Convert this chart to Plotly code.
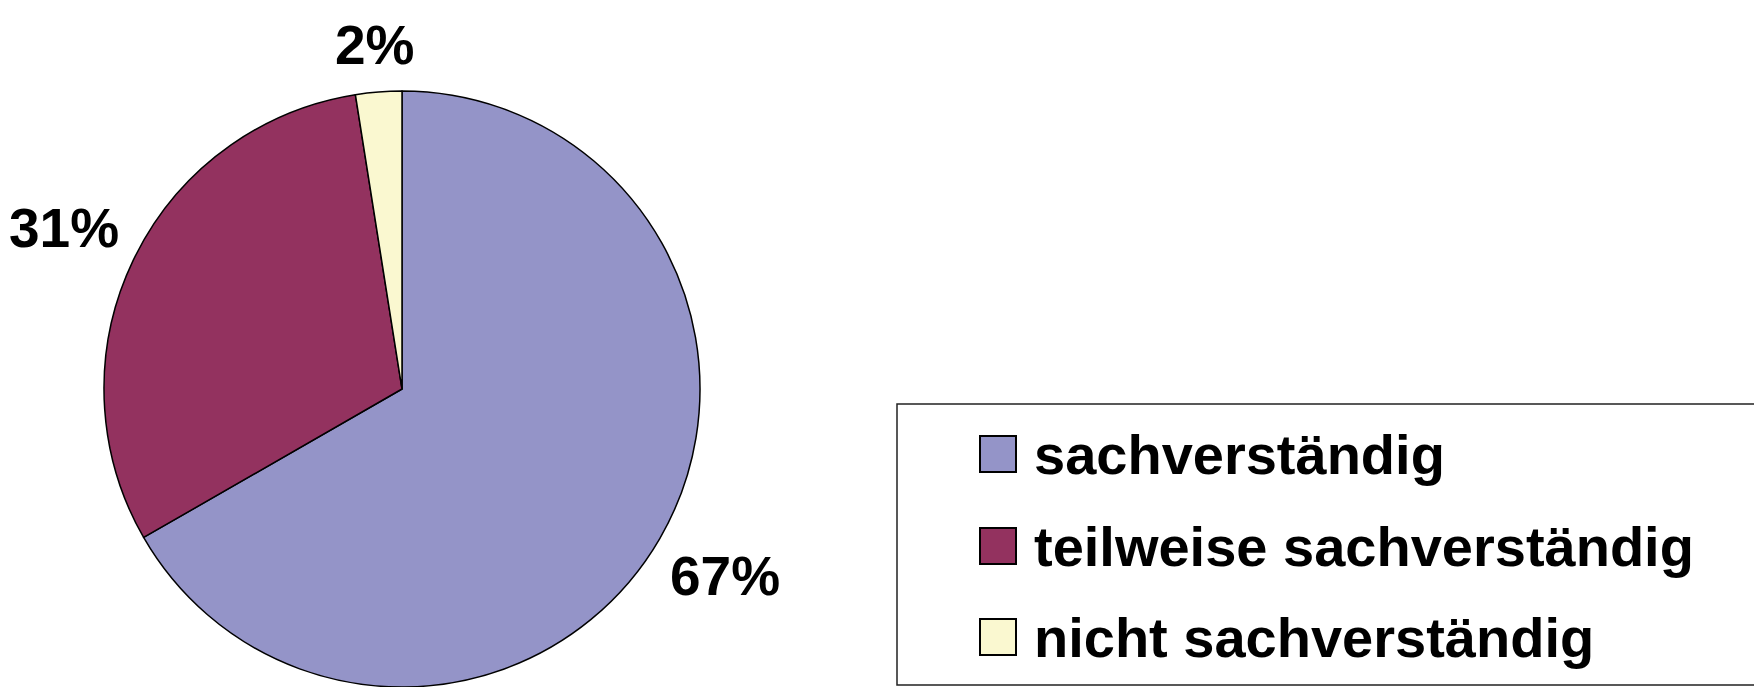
import math
import plotly.graph_objects as go

# ---------------------------------------------------------------------
# Data
# ---------------------------------------------------------------------
labels = ["sachverständig", "teilweise sachverständig", "nicht sachverständig"]
shares = [66.7, 30.8, 2.5]
share_text = ["67%", "31%", "2%"]
colors = ["#9494C8", "#93325F", "#FAF8D0"]

# the page body has an 8px margin, so keep the figure inside the window
W, H = 1754, 679
FONT = "Arial, Liberation Sans, sans-serif"

CX, CY, R = 394, 381, 298   # pie centre / radius in figure pixels


def px_x(x):
    return x / W


def px_y(y):
    return 1 - y / H


fig = go.Figure(go.Pie(
    labels=labels,
    values=shares,
    textinfo="none",
    marker=dict(colors=colors, line=dict(color="black", width=1.5)),
    sort=False,
    direction="clockwise",
    rotation=0,
    showlegend=False,
    hoverinfo="label+percent",
    domain=dict(x=[px_x(CX - R), px_x(CX + R)], y=[px_y(CY + R), px_y(CY - R)]),
))

# percent labels sit on each slice's mid-angle, a bit outside the rim
annotations = []
total = sum(shares)
start = 0.0
for val, txt in zip(shares, share_text):
    mid = (start + val / 2) / total * 2 * math.pi
    start += val
    dist = R * 1.15 + 35 * abs(math.sin(mid))
    annotations.append(dict(
        text=txt, xref="paper", yref="paper",
        x=px_x(CX + dist * math.sin(mid)), y=px_y(CY - dist * math.cos(mid)),
        xanchor="center", yanchor="middle", showarrow=False,
        font=dict(family=FONT, size=55, color="black", weight="bold"),
    ))

# hand-built legend: plotly's pie legend swatches are fixed at 12px.
# The frame runs off the right edge, so draw it open on that side.
lx0, lx1, ly0, ly1 = px_x(889), 1.05, px_y(677), px_y(396)
shapes = [dict(
    type="path", xref="paper", yref="paper",
    path=f"M{lx1},{ly1} L{lx0},{ly1} L{lx0},{ly0} L{lx1},{ly0}",
    line=dict(color="#222222", width=1.5),
)]
row_y = [446, 538, 629]
for lab, col, yc in zip(labels, colors, row_y):
    shapes.append(dict(
        type="rect", xref="paper", yref="paper",
        x0=px_x(972), x1=px_x(1008), y0=px_y(yc + 18), y1=px_y(yc - 18),
        line=dict(color="black", width=2), fillcolor=col,
    ))
    annotations.append(dict(
        text=lab, xref="paper", yref="paper", x=px_x(1024), y=px_y(yc),
        xanchor="left", yanchor="middle", showarrow=False,
        font=dict(family=FONT, size=56, color="black", weight="bold"),
    ))

fig.update_layout(
    width=W, height=H,
    margin=dict(l=0, r=0, t=0, b=0),
    paper_bgcolor="white",
    plot_bgcolor="white",
    shapes=shapes,
    annotations=annotations,
)

fig.write_html("out.html")
